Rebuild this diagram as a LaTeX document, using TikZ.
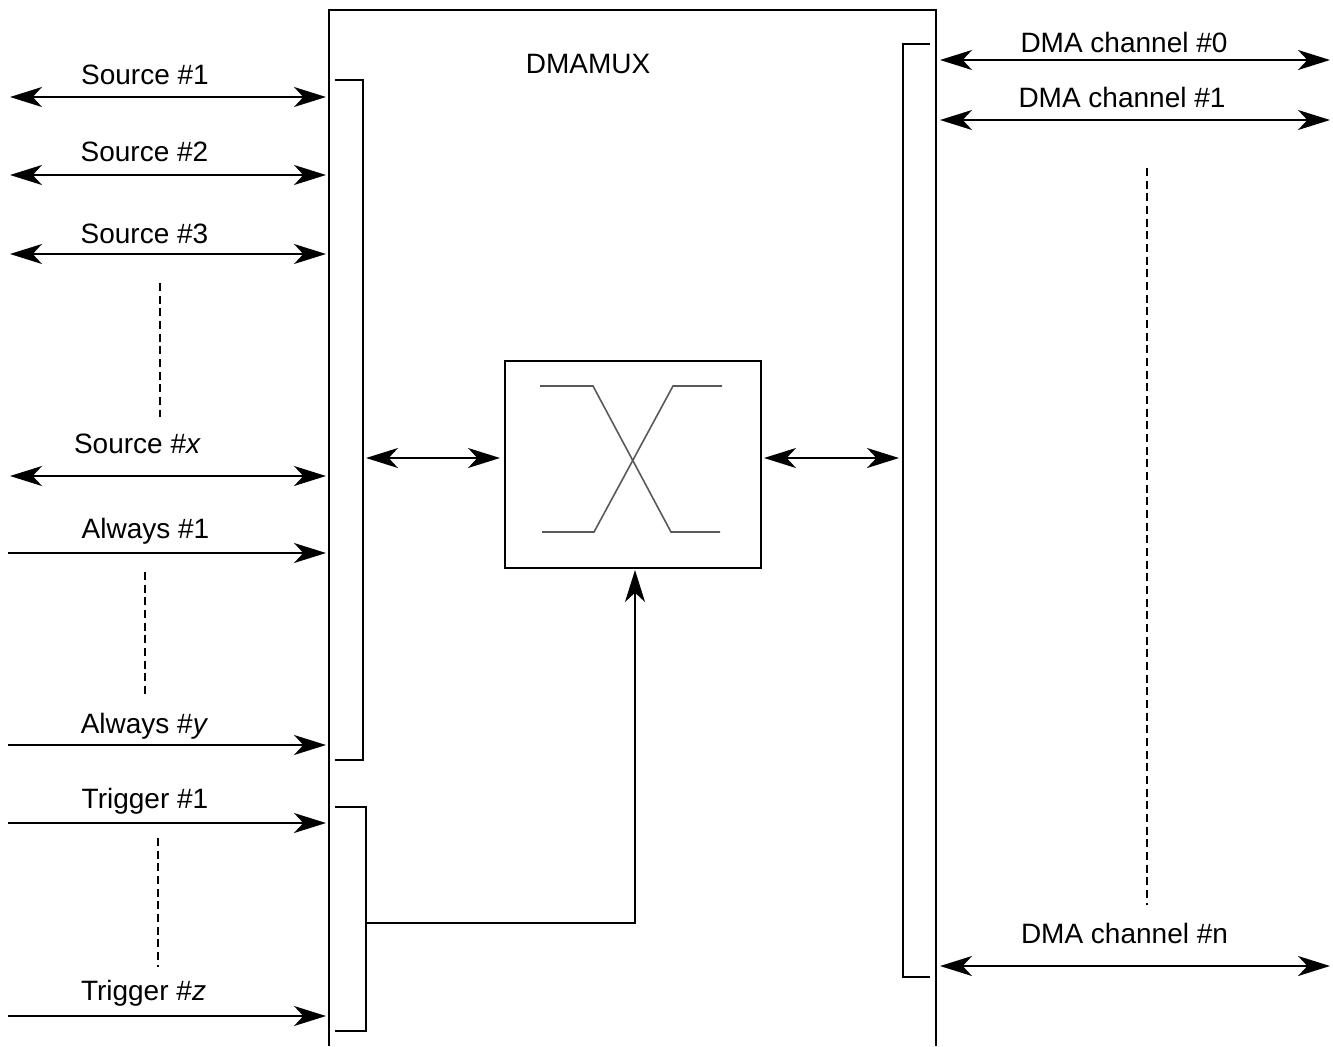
\documentclass[tikz,border=0pt]{standalone}
\usepackage{fontspec}
\setmainfont{Liberation Sans}
\usetikzlibrary{arrows.meta}
\begin{document}
\begin{tikzpicture}[x=0.75pt,y=-0.75pt,
  >={Stealth[length=24pt,width=15pt,inset=7pt]},
  ln/.style={line width=1.5pt},
  sw/.style={line width=1.2pt,black!65},
  dashln/.style={line width=1.2pt,dash pattern=on 6pt off 3.5pt},
  lbl/.style={font=\fontsize{21}{25}\selectfont,inner sep=0pt,anchor=base}]
\useasboundingbox (0,0) rectangle (1333,1046);
% main box (open at bottom)
\draw[ln] (329,1046) -- (329,10) -- (936,10) -- (936,1046);
\node[lbl] (title) at (588,73) {DMAMUX};
% brackets
\draw[ln] (335,80) -- (363,80) -- (363,760) -- (335,760);
\draw[ln] (335,807) -- (366,807) -- (366,1031) -- (335,1031);
\draw[ln] (930,44) -- (903,44) -- (903,977) -- (930,977);
% switch box
\node[draw,ln,minimum width=192pt,minimum height=155.25pt,inner sep=0pt] (sw) at (633,464.5) {};
\draw[sw] (540,386) -- (593,386) -- (671,532) -- (720,532);
\draw[sw] (542,532) -- (594,532) -- (673,386) -- (722,386);
% coordinates
\coordinate (lb) at (366,458);
\coordinate (swl) at (500,458);
\coordinate (swr) at (764,458);
\coordinate (rb) at (899,458);
\coordinate (tb) at (366,923);
\coordinate (swb) at (635,570);
\draw[ln,<->] (lb) -- (swl);
\draw[ln,<->] (swr) -- (rb);
\draw[ln,->] (tb) -| (swb);
% left sources
\foreach \n/\y/\t/\cx/\by in {s1/97/{Source \#1}/145/84, s2/175/{Source \#2}/144.5/161, s3/254/{Source \#3}/144.5/243, sx/476/{Source \#\textit{x}}/137.5/453}{
  \coordinate (\n a) at (10,\y);
  \coordinate (\n b) at (326,\y);
  \draw[ln,<->] (\n a) -- (\n b);
  \node[lbl] (\n l) at (\cx,\by) {\t};
}
\foreach \n/\y/\t/\cx/\by in {a1/553/{Always \#1}/145.5/538, ay/745/{Always \#\textit{y}}/144.5/733, t1/823/{Trigger \#1}/145/808, tz/1016/{Trigger \#\textit{z}}/143.5/1000}{
  \coordinate (\n a) at (8,\y);
  \coordinate (\n b) at (326,\y);
  \draw[ln,->] (\n a) -- (\n b);
  \node[lbl] (\n l) at (\cx,\by) {\t};
}
% right channels
\foreach \n/\y/\t/\cx/\by in {c0/60/{DMA channel \#0}/1124/52, c1/120/{DMA channel \#1}/1122/107, cn/966/{DMA channel \#n}/1124.5/943}{
  \coordinate (\n a) at (940,\y);
  \coordinate (\n b) at (1330,\y);
  \draw[ln,<->] (\n a) -- (\n b);
  \node[lbl] (\n l) at (\cx,\by) {\t};
}
% dashed continuation lines
\draw[dashln] (160,283) -- (160,417);
\draw[dashln] (145,572) -- (145,698);
\draw[dashln] (158,838) -- (158,967);
\draw[dashln] (1147,168) -- (1147,905);
\end{tikzpicture}
\end{document}
